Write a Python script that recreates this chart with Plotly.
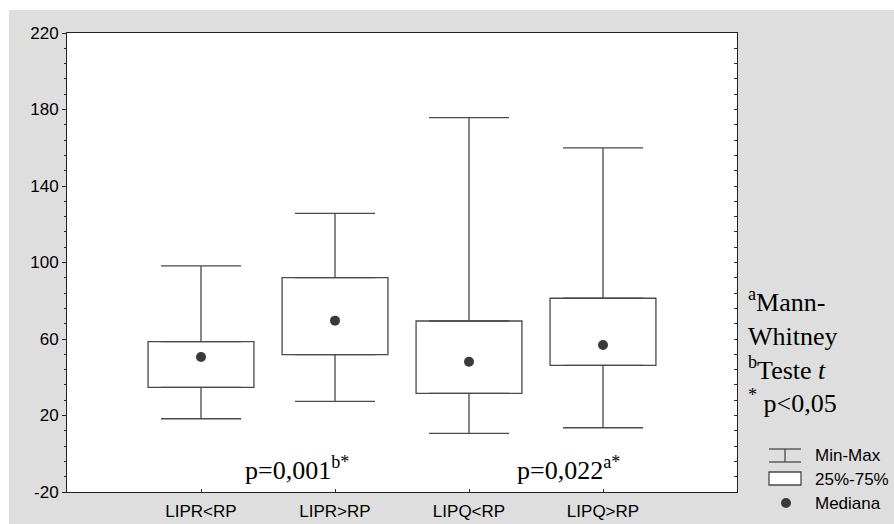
import plotly.graph_objects as go

# ---- data ----
categories = ["LIPR<RP", "LIPR>RP", "LIPQ<RP", "LIPQ>RP"]
positions = [1, 2, 3, 4]
minimum = [18.3, 27.4, 10.7, 13.6]
q1 = [34.7, 51.8, 31.6, 46.2]
median = [50.6, 69.6, 48.1, 56.9]
q3 = [58.6, 92.1, 69.4, 81.3]
maximum = [98.2, 125.7, 175.7, 159.9]
y_ticks = [-20, 20, 60, 100, 140, 180, 220]
y_ticklabels = ["-20", "20", "60", "100", "140", "180", "220"]
p_texts = ["p=0,001<sup>b*</sup>", "p=0,022<sup>a*</sup>"]
note_text = ("<sup>a</sup>Mann-<br>Whitney<br><sup>b</sup>Teste <i>t</i><br>"
             "<sup>*</sup> p&lt;0,05")
legend_labels = ["Min-Max", "25%-75%", "Mediana"]

# ---- layout geometry ----
W, H = 894, 524
ML, MR, MT, MB = 67, 157, 33, 32
PW, PH = W - ML - MR, H - MT - MB


def px2x(px):
    return (px - ML) / PW


def py2y(py):
    return (H - MB - py) / PH


LINE = "#4a4a4a"
DOT = "#3a3a3a"
GREY = "#dedede"
SANS = "Liberation Sans, Arial, sans-serif"
SERIF = "Liberation Serif, Times New Roman, serif"

fig = go.Figure()

# boxes (25%-75%)
fig.add_trace(go.Bar(
    x=positions, y=[b - a for a, b in zip(q1, q3)], base=q1, width=0.79,
    marker=dict(color="white", line=dict(color=LINE, width=1.3)),
    showlegend=False, hoverinfo="skip"))

# upper whiskers
fig.add_trace(go.Scatter(
    x=positions, y=q3, mode="markers",
    marker=dict(size=1, color="rgba(0,0,0,0)"),
    error_y=dict(type="data", symmetric=False,
                 array=[m - t for m, t in zip(maximum, q3)],
                 arrayminus=[0] * len(q3), width=40, thickness=1.3, color=LINE),
    showlegend=False, hoverinfo="skip"))

# lower whiskers
fig.add_trace(go.Scatter(
    x=positions, y=q1, mode="markers",
    marker=dict(size=1, color="rgba(0,0,0,0)"),
    error_y=dict(type="data", symmetric=False,
                 array=[0] * len(q1),
                 arrayminus=[b - m for b, m in zip(q1, minimum)],
                 width=40, thickness=1.3, color=LINE),
    showlegend=False, hoverinfo="skip"))

# medians
fig.add_trace(go.Scatter(
    x=positions, y=median, mode="markers",
    marker=dict(size=10, color=DOT), showlegend=False, hoverinfo="skip"))

# empty trace for mirrored right axis ticks
fig.add_trace(go.Scatter(x=[], y=[], yaxis="y2", showlegend=False))

shapes = [
    # white outer strips (grey panel starts at x=9, y=10)
    dict(type="rect", xref="paper", yref="paper", x0=-1, x1=2,
         y0=py2y(10), y1=2, fillcolor="white", line=dict(width=0), layer="below"),
    dict(type="rect", xref="paper", yref="paper", x0=-1, x1=px2x(9),
         y0=-1, y1=2, fillcolor="white", line=dict(width=0), layer="below"),
    # legend: Min-Max symbol
    dict(type="line", xref="paper", yref="paper", x0=px2x(769), x1=px2x(801),
         y0=py2y(449), y1=py2y(449), line=dict(color=LINE, width=1.3)),
    dict(type="line", xref="paper", yref="paper", x0=px2x(769), x1=px2x(801),
         y0=py2y(462), y1=py2y(462), line=dict(color=LINE, width=1.3)),
    dict(type="line", xref="paper", yref="paper", x0=px2x(785), x1=px2x(785),
         y0=py2y(449), y1=py2y(462), line=dict(color=LINE, width=1.3)),
    # legend: box symbol
    dict(type="rect", xref="paper", yref="paper", x0=px2x(769), x1=px2x(801),
         y0=py2y(485), y1=py2y(472), fillcolor="white",
         line=dict(color=LINE, width=1.3)),
    # legend: median dot
    dict(type="circle", xref="paper", yref="paper", x0=px2x(781), x1=px2x(791),
         y0=py2y(508), y1=py2y(498), fillcolor=DOT, line=dict(color=DOT, width=0)),
]

annotations = []
# p-values
for xpix, txt in zip([243, 515], p_texts):
    annotations.append(dict(
        xref="paper", yref="paper", x=px2x(xpix), y=py2y(468),
        xanchor="left", yanchor="middle", showarrow=False, text=txt,
        font=dict(family=SERIF, size=26, color="black")))
# notes
annotations.append(dict(
    xref="paper", yref="paper", x=px2x(746), y=py2y(282),
    xanchor="left", yanchor="top", align="left", showarrow=False,
    text=note_text, font=dict(family=SERIF, size=26, color="black")))
# legend labels
for ypix, lab in zip([455, 479, 503], legend_labels):
    annotations.append(dict(
        xref="paper", yref="paper", x=px2x(813), y=py2y(ypix),
        xanchor="left", yanchor="middle", showarrow=False, text=lab,
        font=dict(family=SANS, size=17, color="black")))

fig.update_layout(
    width=W, height=H,
    margin=dict(l=ML, r=MR, t=MT, b=MB, pad=0, autoexpand=False),
    paper_bgcolor=GREY, plot_bgcolor="white",
    showlegend=False,
    xaxis=dict(range=[0, 5], tickvals=positions, ticktext=categories,
               ticks="inside", ticklen=3, tickcolor="#333",
               ticklabelstandoff=4, automargin=False,
               showline=True, linecolor="#222", linewidth=1, mirror=True,
               showgrid=False, zeroline=False,
               tickfont=dict(family=SANS, size=17, color="black")),
    yaxis=dict(range=[-20, 220], tickvals=y_ticks, ticktext=y_ticklabels,
               ticks="outside", ticklen=4, tickcolor="#222", automargin=False,
               minor=dict(ticks="outside", ticklen=2, dtick=8, tick0=-20,
                          tickcolor="#222", showgrid=False),
               showline=True, linecolor="#222", linewidth=1, mirror=True,
               showgrid=False, zeroline=False,
               tickfont=dict(family=SANS, size=17, color="black")),
    yaxis2=dict(range=[-20, 220], overlaying="y", side="right",
                tickvals=y_ticks, ticks="inside", ticklen=3, tickcolor="#333",
                automargin=False,
                minor=dict(ticks="inside", ticklen=3, dtick=8, tick0=-20,
                           tickcolor="#333", showgrid=False),
                showticklabels=False, showline=False, showgrid=False,
                zeroline=False),
    shapes=shapes,
    annotations=annotations,
)

fig.write_html("out.html")
